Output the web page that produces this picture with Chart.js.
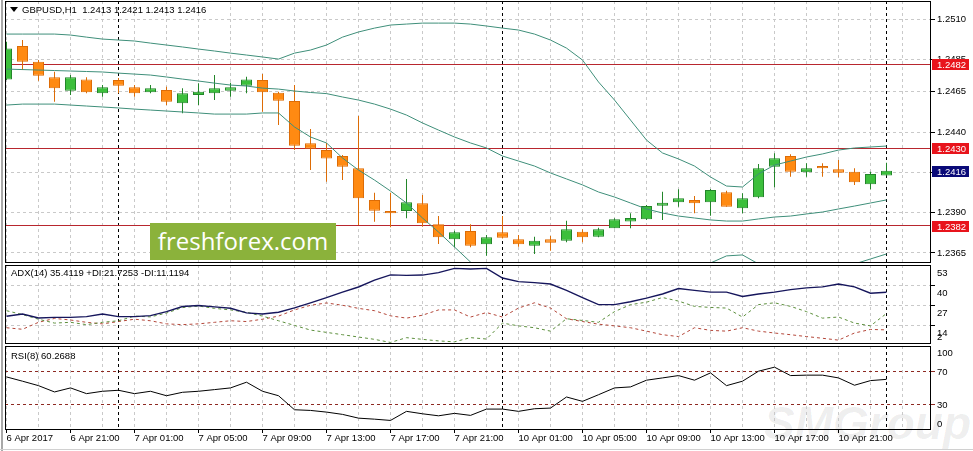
<!DOCTYPE html>
<html lang="en">
<head>
<meta charset="UTF-8">
<title>GBPUSD,H1</title>
<script src="https://cdn.jsdelivr.net/npm/chart.js"></script>
<style>
  body { margin: 0; background: #fff; width: 973px; height: 451px; overflow: hidden; position: relative;
         font-family: "Liberation Sans", Arial, sans-serif; }
  canvas { position: absolute; left: 0; z-index: 1; }
  .txt { position: absolute; font-size: 9.5px; line-height: 11px; color: #000; white-space: pre; z-index: 2; }
  .side { position: absolute; font-size: 9.5px; line-height: 11px; color: #000; white-space: pre; z-index: 4; }
  .tri { position: absolute; left: 10px; top: 7px; width: 0; height: 0; z-index: 2;
         border-left: 4px solid transparent; border-right: 4px solid transparent; border-top: 5px solid #000; }
  .ff { position: absolute; left: 150px; top: 223px; width: 186px; height: 37px; background: #8bb23b; z-index: 3;
        color: #fff; font: 24px "Open Sans", sans-serif; line-height: 36px; text-align: center; }
  .wm { position: absolute; left: 764px; top: 396px; z-index: 0; color: rgba(0,0,0,0.07);
        font: italic bold 46px "Liberation Sans", sans-serif; }
  .edge { position: absolute; background: #a8a8a8; z-index: 2; }
</style>
</head>
<body>
  <div class="edge" style="left:1px;top:0;width:2px;height:451px"></div>
  <div class="edge" style="left:0;top:449px;width:973px;height:1px;background:#d0d0d0"></div>
  <div class="wm">SMGroup</div>
  <canvas id="mainChart" width="973" height="264" style="top:0"></canvas>
  <canvas id="adxChart" width="973" height="81" style="top:264px"></canvas>
  <canvas id="rsiChart" width="973" height="106" style="top:345px"></canvas>
  <div class="tri"></div>
  <div class="txt" style="left:22px;top:4px">GBPUSD,H1  1.2413 1.2421 1.2413 1.2416</div>
  <div class="txt" style="left:11px;top:267px">ADX(14) 35.4119 +DI:21.7253 -DI:11.1194</div>
  <div class="txt" style="left:11px;top:350px">RSI(8) 60.2688</div>
  <div class="ff">freshforex.com</div>

<script>
  // candles, 6 Apr 17:00 .. 11 Apr 00:00 (H1), index = candle number
  const openP = [1.24726, 1.24933, 1.24835, 1.24739, 1.24656, 1.24726, 1.24640, 1.24722, 1.24677, 1.24646,
    1.24660, 1.24578, 1.24629, 1.24640, 1.24656, 1.24687, 1.24722, 1.24643, 1.24592, 1.24330,
    1.24288, 1.24251, 1.24175, 1.23979, 1.23910, 1.23910, 1.23958, 1.23828, 1.23735, 1.23786,
    1.23704, 1.23778, 1.23735, 1.23695, 1.23735, 1.23726, 1.23782, 1.23751, 1.23803, 1.23845,
    1.23859, 1.23943, 1.23964, 1.23979, 1.23964, 1.24026, 1.23927, 1.23995, 1.24185, 1.24251,
    1.24150, 1.24189, 1.24169, 1.24154, 1.24076, 1.24130];
  const highP = [1.24960, 1.24970, 1.24846, 1.24773, 1.24753, 1.24739, 1.24691, 1.24734, 1.24691, 1.24691,
    1.24681, 1.24671, 1.24702, 1.24753, 1.24705, 1.24743, 1.24759, 1.24650, 1.24691, 1.24418,
    1.24332, 1.24257, 1.24499, 1.24024, 1.24024, 1.24109, 1.24010, 1.23879, 1.23788, 1.23828,
    1.23762, 1.23879, 1.23762, 1.23751, 1.23755, 1.23850, 1.23797, 1.23807, 1.23865, 1.23896,
    1.23948, 1.24030, 1.24045, 1.24003, 1.24047, 1.24036, 1.24020, 1.24202, 1.24268, 1.24262,
    1.24206, 1.24206, 1.24226, 1.24175, 1.24154, 1.24210];
  const lowP = [1.24722, 1.24784, 1.24718, 1.24588, 1.24629, 1.24640, 1.24619, 1.24640, 1.24619, 1.24640,
    1.24567, 1.24516, 1.24567, 1.24598, 1.24619, 1.24640, 1.24526, 1.24443, 1.24288, 1.24164,
    1.24092, 1.24102, 1.23824, 1.23844, 1.23809, 1.23865, 1.23813, 1.23706, 1.23685, 1.23685,
    1.23633, 1.23740, 1.23689, 1.23644, 1.23664, 1.23716, 1.23716, 1.23747, 1.23803, 1.23803,
    1.23855, 1.23855, 1.23937, 1.23896, 1.23881, 1.23937, 1.23896, 1.23989, 1.24057, 1.24123,
    1.24123, 1.24123, 1.24119, 1.24071, 1.24045, 1.24130];
  const closeP = [1.24918, 1.24835, 1.24749, 1.24671, 1.24739, 1.24646, 1.24677, 1.24687, 1.24640, 1.24671,
    1.24588, 1.24640, 1.24650, 1.24671, 1.24677, 1.24726, 1.24646, 1.24594, 1.24315, 1.24296,
    1.24236, 1.24185, 1.23989, 1.23912, 1.23896, 1.23964, 1.23834, 1.23747, 1.23778, 1.23695,
    1.23747, 1.23745, 1.23704, 1.23726, 1.23714, 1.23797, 1.23747, 1.23797, 1.23859, 1.23867,
    1.23941, 1.23962, 1.23989, 1.23958, 1.24041, 1.23937, 1.23989, 1.24175, 1.24237, 1.24154,
    1.24175, 1.24175, 1.24148, 1.24088, 1.24140, 1.24160];

  // bollinger bands
  const bbUpper = [1.25007, 1.25007, 1.25007, 1.25007, 1.25001, 1.24988, 1.24976, 1.24970, 1.24964, 1.24951,
    1.24939, 1.24927, 1.24914, 1.24902, 1.24889, 1.24877, 1.24865, 1.24852, 1.24889, 1.24908,
    1.24939, 1.24988, 1.25020, 1.25044, 1.25063, 1.25069, 1.25075, 1.25075, 1.25075, 1.25069,
    1.25057, 1.25044, 1.25032, 1.25007, 1.24970, 1.24920, 1.24846, 1.24710, 1.24598, 1.24474,
    1.24350, 1.24270, 1.24233, 1.24189, 1.24121, 1.24065, 1.24059, 1.24140, 1.24195, 1.24220,
    1.24245, 1.24264, 1.24288, 1.24301, 1.24307, 1.24313];
  const bbMid = [1.24790, 1.24787, 1.24784, 1.24781, 1.24778, 1.24775, 1.24772, 1.24765, 1.24759, 1.24753,
    1.24741, 1.24728, 1.24716, 1.24703, 1.24691, 1.24685, 1.24672, 1.24666, 1.24654, 1.24645,
    1.24638, 1.24617, 1.24598, 1.24573, 1.24542, 1.24505, 1.24456, 1.24412, 1.24369, 1.24332,
    1.24301, 1.24251, 1.24220, 1.24189, 1.24146, 1.24109, 1.24072, 1.24028, 1.23997, 1.23960,
    1.23923, 1.23898, 1.23879, 1.23867, 1.23855, 1.23848, 1.23848, 1.23861, 1.23873, 1.23879,
    1.23892, 1.23904, 1.23923, 1.23941, 1.23960, 1.23979];
  const bbLower = [1.24567, 1.24573, 1.24573, 1.24573, 1.24567, 1.24561, 1.24555, 1.24549, 1.24542, 1.24536,
    1.24530, 1.24524, 1.24518, 1.24511, 1.24511, 1.24511, 1.24518, 1.24518, 1.24431, 1.24369,
    1.24332, 1.24239, 1.24164, 1.24102, 1.24034, 1.23960, 1.23867, 1.23780, 1.23687, 1.23594,
    1.23545, 1.23458, 1.23408, 1.23371, 1.23322, 1.23297, 1.23297, 1.23347, 1.23396, 1.23446,
    1.23495, 1.23526, 1.23526, 1.23545, 1.23588, 1.23632, 1.23638, 1.23582, 1.23551, 1.23539,
    1.23539, 1.23545, 1.23557, 1.23582, 1.23613, 1.23644];

  // ADX(14)
  const adxMain = [19.9, 21.4, 18.8, 19.2, 19.2, 19.7, 21.4, 19.7, 19.7, 20.3,
    22.9, 26.2, 26.9, 26.0, 25.1, 22.1, 21.4, 22.5, 25.3, 28.6,
    31.9, 35.5, 38.8, 43.2, 46.6, 46.3, 46.5, 48.1, 50.8, 50.4,
    50.8, 44.6, 42.3, 41.6, 40.7, 36.6, 32.0, 27.4, 27.4, 29.3,
    31.6, 34.3, 37.8, 36.6, 35.5, 35.5, 32.7, 34.3, 35.5, 37.1,
    38.2, 38.9, 40.7, 38.9, 34.8, 35.41];
  const plusDI = [23.5, 21.0, 18.0, 15.5, 16.0, 14.5, 16.0, 17.0, 20.0, 19.5,
    22.0, 25.5, 26.5, 25.0, 24.0, 22.5, 20.0, 17.0, 14.0, 11.0,
    9.5, 8.0, 6.5, 5.0, 3.0, 6.1, 5.0, 4.0, 3.4, 6.1,
    5.2, 15.5, 13.7, 12.5, 10.3, 18.3, 17.2, 16.0, 22.9, 27.4,
    29.0, 32.0, 29.7, 26.3, 25.6, 25.2, 19.4, 27.4, 28.6, 26.3,
    22.9, 18.7, 19.4, 15.5, 13.7, 21.73];
  const minusDI = [12.5, 11.5, 16.0, 18.5, 17.5, 16.0, 15.0, 16.5, 18.0, 17.0,
    15.0, 14.5, 15.0, 16.0, 17.0, 16.5, 18.0, 20.0, 24.0, 27.0,
    28.5, 27.0, 25.0, 23.5, 20.2, 18.7, 20.6, 24.0, 24.0, 19.4,
    22.3, 19.4, 25.2, 28.6, 25.2, 18.3, 16.5, 14.8, 13.7, 12.5,
    10.3, 8.0, 6.8, 12.5, 10.8, 10.3, 12.5, 10.3, 9.1, 8.0,
    6.8, 5.7, 4.5, 9.1, 11.4, 11.12];

  // RSI(8)
  const rsi = [63.2, 58.1, 52.8, 45.3, 50.1, 43.3, 46.1, 47.3, 43.3, 46.1,
    40.8, 44.9, 46.1, 48.1, 50.1, 56.9, 46.1, 40.8, 24.1, 23.3,
    21.3, 18.6, 14.1, 12.9, 11.4, 22.2, 19.3, 16.9, 19.8, 17.4,
    24.9, 24.9, 22.2, 25.3, 26.1, 39.3, 34.1, 42.0, 50.1, 51.3,
    59.3, 62.0, 64.8, 59.3, 68.0, 52.8, 58.1, 70.0, 74.8, 64.8,
    65.3, 65.3, 62.0, 53.3, 58.8, 60.27];

  // axes
  const xTickIdx = [0, 4, 8, 12, 16, 20, 24, 28, 32, 36, 40, 44, 48, 52];
  const xTickLabels = ['6 Apr 2017', '6 Apr 21:00', '7 Apr 01:00', '7 Apr 05:00', '7 Apr 09:00', '7 Apr 13:00',
    '7 Apr 17:00', '7 Apr 21:00', '10 Apr 01:00', '10 Apr 05:00', '10 Apr 09:00', '10 Apr 13:00',
    '10 Apr 17:00', '10 Apr 21:00'];
  const gridIdx = [0, 2, 4, 6, 8, 10, 12, 14, 16, 18, 20, 22, 24, 26, 28, 30, 32, 34, 36, 38, 40, 42, 44, 46, 48, 50, 52, 54, 56];
  const daySepIdx = [7, 31, 55];
  const priceTicks = [1.2365, 1.2390, 1.2415, 1.2440, 1.2465, 1.2485, 1.2510];
  const levelPrices = [1.2482, 1.2430, 1.2382];
  const adxTicks = [53, 40, 27, 14, 2];
  const rsiTicks = [100, 70, 30, 0];
  const rsiLevels = [70, 30];

  const BULL = '#3cbf3c', BULL_EDGE = '#23862a';
  const BEAR = '#ff8a12', BEAR_EDGE = '#dd6c06';
  const BAND = '#3f8f7a';
  const GRID = '#c9c9c9';
  const FONT = '9.5px "Liberation Sans", Arial, sans-serif';

  Chart.defaults.font.family = '"Liberation Sans", Arial, sans-serif';
  Chart.defaults.font.size = 9.5;
  Chart.defaults.color = '#000';
  Chart.defaults.animation = false;
  Chart.defaults.plugins.legend.display = false;
  Chart.defaults.plugins.tooltip.enabled = false;

  const X_MIN = -0.09375, X_MAX = 57.78125;

  function noPad(s) { s.paddingLeft = 0; s.paddingRight = 0; s.paddingTop = 0; s.paddingBottom = 0; }

  function xScale(withLabels) {
    return {
      type: 'linear', min: X_MIN, max: X_MAX, bounds: 'data', offset: false,
      afterBuildTicks: s => { s.ticks = gridIdx.map(v => ({ value: v })); },
      afterFit: s => { s.height = withLabels ? 21 : 0; noPad(s); },
      grid: {
        offset: false, color: GRID, drawTicks: withLabels, tickLength: 3, tickBorderDash: [1, 0],
        tickColor: c => (c.tick && xTickIdx.includes(c.tick.value)) ? '#000' : 'rgba(0,0,0,0)'
      },
      border: { display: false, dash: [3, 3] },
      ticks: {
        display: withLabels, autoSkip: false, maxRotation: 0, minRotation: 0, align: 'start', padding: 1,
        font: { size: 9.5, lineHeight: 1 },
        callback: v => { const k = xTickIdx.indexOf(v); return k >= 0 ? xTickLabels[k] : ''; }
      }
    };
  }

  function alignPx(v) { return Math.round(v - 0.5) + 0.5; }

  // black frame around each panel + dotted day separators
  const panelPlugin = {
    id: 'panel',
    beforeDatasetsDraw(chart) {
      const { ctx, chartArea: a, scales: { x } } = chart;
      ctx.save();
      ctx.strokeStyle = '#000';
      ctx.lineWidth = 1;
      ctx.setLineDash([3, 3]);
      daySepIdx.forEach(i => {
        const px = alignPx(x.getPixelForValue(i));
        ctx.beginPath(); ctx.moveTo(px, a.top); ctx.lineTo(px, a.bottom); ctx.stroke();
      });
      ctx.restore();
    },
    afterDraw(chart) {
      const { ctx, chartArea: a } = chart;
      ctx.save();
      ctx.strokeStyle = '#000';
      ctx.lineWidth = 1;
      ctx.strokeRect(a.left + 0.5, a.top + 0.5, a.right - a.left - 1, a.bottom - a.top - 1);
      ctx.restore();
    }
  };

  function priceBox(ctx, x, y, text, bg) {
    const top = Math.round(y) - 5;
    ctx.fillStyle = bg;
    ctx.fillRect(x, top, 37, 11);
    ctx.fillStyle = '#fff';
    ctx.textBaseline = 'middle';
    ctx.textAlign = 'left';
    ctx.fillText(text, x + 5, top + 6);
  }

  const levelPlugin = {
    id: 'levels',
    beforeDatasetsDraw(chart) {
      const { ctx, chartArea: a, scales: { y } } = chart;
      ctx.save();
      ctx.strokeStyle = '#b8262e';
      ctx.lineWidth = 1;
      levelPrices.forEach(p => {
        const py = alignPx(y.getPixelForValue(p));
        ctx.beginPath(); ctx.moveTo(a.left, py); ctx.lineTo(a.right, py); ctx.stroke();
      });
      ctx.restore();
    },
    afterDraw(chart) {
      const { ctx, chartArea: a, scales: { y } } = chart;
      ctx.save();
      ctx.font = FONT;
      levelPrices.forEach(p => priceBox(ctx, a.right + 1, y.getPixelForValue(p), p.toFixed(4), '#e8141c'));
      const last = closeP[closeP.length - 1];
      priceBox(ctx, a.right + 1, y.getPixelForValue(last), last.toFixed(4), '#0a0a78');
      ctx.restore();
    }
  };

  // scale labels of the indicator windows, placed from the window's y scale
  // (MT4 puts the top one under the frame and the bottom one over it)
  function sideLabels(values, shift) {
    const nodes = [];
    return {
      id: 'side',
      afterDraw(chart) {
        const { chartArea: a, scales: { y } } = chart;
        const top0 = chart.canvas.offsetTop;
        values.forEach((v, k) => {
          if (!nodes[k]) {
            nodes[k] = document.createElement('div');
            nodes[k].className = 'side';
            nodes[k].textContent = String(v);
            document.body.appendChild(nodes[k]);
          }
          const py = top0 + y.getPixelForValue(v) + shift(v);
          nodes[k].style.left = (a.right + 6) + 'px';
          nodes[k].style.top = (py - 5.5) + 'px';
        });
      }
    };
  }

  const pts = arr => arr.map((v, i) => ({ x: i, y: v }));
  const isBull = i => closeP[i] >= openP[i];

  // ---- price window ----
  new Chart(document.getElementById('mainChart'), {
    type: 'bar',
    data: {
      datasets: [
        { type: 'line', data: pts(bbUpper), borderColor: BAND, borderWidth: 1, pointRadius: 0, order: 0, clip: 0 },
        { type: 'line', data: pts(bbMid), borderColor: BAND, borderWidth: 1, pointRadius: 0, order: 0, clip: 0 },
        { type: 'line', data: pts(bbLower), borderColor: BAND, borderWidth: 1, pointRadius: 0, order: 0, clip: 0 },
        {
          data: openP.map((o, i) => ({ x: i, y: [o, closeP[i]] })),
          backgroundColor: c => isBull(c.dataIndex) ? BULL : BEAR,
          borderColor: c => isBull(c.dataIndex) ? BULL_EDGE : BEAR_EDGE,
          borderWidth: 1, borderSkipped: false, barThickness: 11, minBarLength: 1, inflateAmount: 0, order: 1
        },
        {
          data: lowP.map((l, i) => ({ x: i, y: [l, highP[i]] })),
          backgroundColor: c => isBull(c.dataIndex) ? BULL_EDGE : BEAR_EDGE,
          borderWidth: 0, barThickness: 1, inflateAmount: 0, order: 2
        }
      ]
    },
    options: {
      responsive: false,
      layout: { autoPadding: false, padding: { left: 5, right: 0, top: 1, bottom: 1 } },
      datasets: { bar: { grouped: false } },
      scales: {
        x: xScale(false),
        y: {
          position: 'right', min: 1.23588, max: 1.25212, bounds: 'data',
          afterBuildTicks: s => { s.ticks = priceTicks.map(v => ({ value: v })); },
          afterFit: s => { s.width = 42; noPad(s); },
          grid: { color: GRID, tickColor: '#000', tickLength: 4, tickBorderDash: [1, 0] },
          border: { display: false, dash: [3, 3] },
          ticks: { padding: 2, callback: v => v.toFixed(4) }
        }
      }
    },
    plugins: [panelPlugin, levelPlugin]
  });

  // ---- ADX window ----
  const adxGrid = [40, 27, 14];
  new Chart(document.getElementById('adxChart'), {
    type: 'line',
    data: {
      datasets: [
        { data: pts(adxMain), borderColor: '#16165c', borderWidth: 1.4, pointRadius: 0 },
        { data: pts(plusDI), borderColor: '#5c8f3c', borderWidth: 1, borderDash: [3, 3], pointRadius: 0 },
        { data: pts(minusDI), borderColor: '#b4473a', borderWidth: 1, borderDash: [3, 3], pointRadius: 0 }
      ]
    },
    options: {
      responsive: false,
      layout: { autoPadding: false, padding: { left: 5, right: 0, top: 1, bottom: 1 } },
      scales: {
        x: xScale(false),
        y: {
          position: 'right', min: 2, max: 53, bounds: 'data',
          afterBuildTicks: s => { s.ticks = adxTicks.map(v => ({ value: v })); },
          afterFit: s => { s.width = 42; noPad(s); },
          grid: {
            tickLength: 4, tickBorderDash: [1, 0],
            color: c => (c.tick && adxGrid.includes(c.tick.value)) ? GRID : 'rgba(0,0,0,0)',
            tickColor: c => (c.tick && adxGrid.includes(c.tick.value)) ? '#000' : 'rgba(0,0,0,0)'
          },
          border: { display: false, dash: [3, 3] },
          ticks: { display: false }
        }
      }
    },
    plugins: [panelPlugin, sideLabels(adxTicks, v => v === 2 ? -8 : 7)]
  });

  // ---- RSI window ----
  new Chart(document.getElementById('rsiChart'), {
    type: 'line',
    data: {
      datasets: [
        { data: pts(rsi), borderColor: '#000', borderWidth: 1, pointRadius: 0 }
      ]
    },
    options: {
      responsive: false,
      layout: { autoPadding: false, padding: { left: 5, right: 0, top: 1, bottom: 0 } },
      scales: {
        x: xScale(true),
        y: {
          position: 'right', min: 0, max: 100, bounds: 'data',
          afterBuildTicks: s => { s.ticks = rsiTicks.map(v => ({ value: v })); },
          afterFit: s => { s.width = 42; noPad(s); },
          grid: {
            tickLength: 4, tickBorderDash: [1, 0],
            color: c => (c.tick && rsiLevels.includes(c.tick.value)) ? '#8e2a22' : 'rgba(0,0,0,0)',
            tickColor: c => (c.tick && rsiLevels.includes(c.tick.value)) ? '#8e2a22' : 'rgba(0,0,0,0)'
          },
          border: { display: false, dash: [3, 3] },
          ticks: { display: false }
        }
      }
    },
    plugins: [panelPlugin, sideLabels(rsiTicks, v => v === 100 ? 6 : (v === 0 ? -7 : 0))]
  });
</script>
</body>
</html>
